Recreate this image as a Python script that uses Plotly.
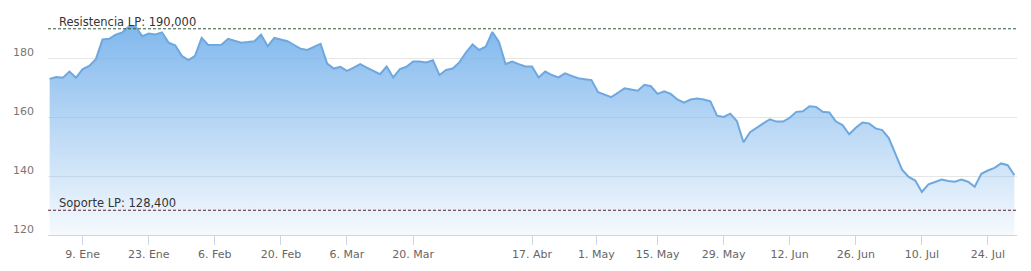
import numpy as np
import pandas as pd
import plotly.graph_objects as go

# ---- data -------------------------------------------------------------
start_date = "2017-01-02"
market_holidays = ["2017-04-13", "2017-04-14", "2017-05-01"]

price = [
    173.0, 173.6, 173.4, 175.5, 173.4, 176.3, 177.4, 179.7, 186.4, 186.6,
    188.0, 188.8, 190.8, 190.8, 187.5, 188.4, 188.1, 188.8, 185.3, 184.4,
    180.8, 179.4, 180.8, 186.9, 184.5, 184.5, 184.6, 186.6, 186.0, 185.3,
    185.5, 185.8, 188.0, 184.1, 186.9, 186.3, 185.8, 184.5, 183.2, 182.8,
    183.8, 184.9, 178.2, 176.5, 177.1, 175.7, 176.8, 178.0, 176.8, 175.7,
    174.6, 177.2, 173.5, 176.3, 177.1, 178.9, 178.9, 178.6, 179.3, 174.3,
    176.0, 176.5, 178.6, 181.9, 184.7, 182.8, 183.9, 188.9, 185.5, 178.0,
    178.9, 178.0, 177.2, 177.2, 173.5, 175.5, 174.3, 173.5, 174.9, 174.0,
    173.2, 172.9, 172.6, 168.5, 167.6, 166.8, 168.3, 169.8, 169.4, 169.0,
    171.0, 170.5, 167.9, 168.8, 167.9, 166.0, 164.9, 166.0, 166.3, 166.0,
    165.4, 160.5, 160.1, 161.2, 158.7, 151.5, 154.9, 156.5, 157.9, 159.3,
    158.5, 158.5, 159.8, 161.8, 162.0, 163.7, 163.5, 161.8, 161.6, 158.5,
    157.3, 154.2, 156.4, 158.2, 157.9, 156.2, 155.6, 152.9, 147.8, 142.2,
    139.7, 138.5, 134.6, 137.2, 138.0, 138.8, 138.3, 138.1, 138.8, 138.1,
    136.4, 140.8, 141.9, 142.8, 144.3, 143.7, 140.3,
]

resistance_value = 190.0
resistance_label = "Resistencia LP: 190,000"
support_value = 128.4
support_label = "Soporte LP: 128,400"

tick_dates = ["2017-01-09", "2017-01-23", "2017-02-06", "2017-02-20",
              "2017-03-06", "2017-03-20", "2017-04-17", "2017-05-01",
              "2017-05-15", "2017-05-29", "2017-06-12", "2017-06-26",
              "2017-07-10", "2017-07-24"]
tick_labels = ["9. Ene", "23. Ene", "6. Feb", "20. Feb", "6. Mar", "20. Mar",
               "17. Abr", "1. May", "15. May", "29. May", "12. Jun",
               "26. Jun", "10. Jul", "24. Jul"]

y_ticks = [120, 140, 160, 180]

# ---- ordinal (trading-day) axis --------------------------------------
bday = pd.offsets.CustomBusinessDay(holidays=market_holidays)
dates = pd.date_range(start_date, periods=len(price), freq=bday)
idx = np.arange(len(price))
date_num = dates.values.astype("datetime64[D]").astype(float)
tick_num = pd.to_datetime(tick_dates).values.astype("datetime64[D]").astype(float)
tick_pos = np.interp(tick_num, date_num, idx)

FONT = "DejaVu Sans"

fig = go.Figure()
fig.add_trace(go.Scatter(
    x=idx, y=price, mode="lines",
    line=dict(color="#6ea8de", width=2),
    fill="tozeroy",
    fillgradient=dict(
        type="vertical",
        start=120, stop=194,
        colorscale=[[0, "rgba(124,181,236,0.06)"], [1, "rgba(124,181,236,1)"]],
    ),
    hoverinfo="skip",
    showlegend=False,
))

for val, col in [(resistance_value, "#2d5a3a"), (support_value, "#5c1f33")]:
    fig.add_shape(type="line", xref="paper", x0=0, x1=1, yref="y",
                  y0=val, y1=val, line=dict(color=col, width=1, dash="3px,2px"))

for val, txt in [(resistance_value, resistance_label), (support_value, support_label)]:
    fig.add_annotation(xref="paper", x=0, xanchor="left", xshift=9,
                       yref="y", y=val, yanchor="bottom", yshift=-2,
                       text=txt, showarrow=False,
                       font=dict(family=FONT, size=11.5, color="#333333"))

fig.update_layout(
    width=1031, height=271,
    margin=dict(l=48, r=14, t=10, b=33),
    paper_bgcolor="white", plot_bgcolor="white",
    font=dict(family=FONT, size=11, color="#666666"),
    xaxis=dict(
        range=[-0.25, 146.4],
        tickvals=tick_pos, ticktext=tick_labels,
        showgrid=False, zeroline=False,
        showline=True, linecolor="#ccd6eb", linewidth=1,
        ticks="outside", ticklen=9, tickcolor="#ccd6eb",
        tickfont=dict(family=FONT, size=11, color="#666666"),
    ),
    yaxis=dict(
        range=[120, 196.38],
        tickvals=y_ticks,
        showgrid=True, gridcolor="#e6e6e6", gridwidth=1,
        zeroline=False, showline=False,
        ticks="", ticklabelstandoff=13, ticklabelshift=-6,
        tickfont=dict(family=FONT, size=11, color="#777777"),
    ),
)

fig.write_html("out.html")
